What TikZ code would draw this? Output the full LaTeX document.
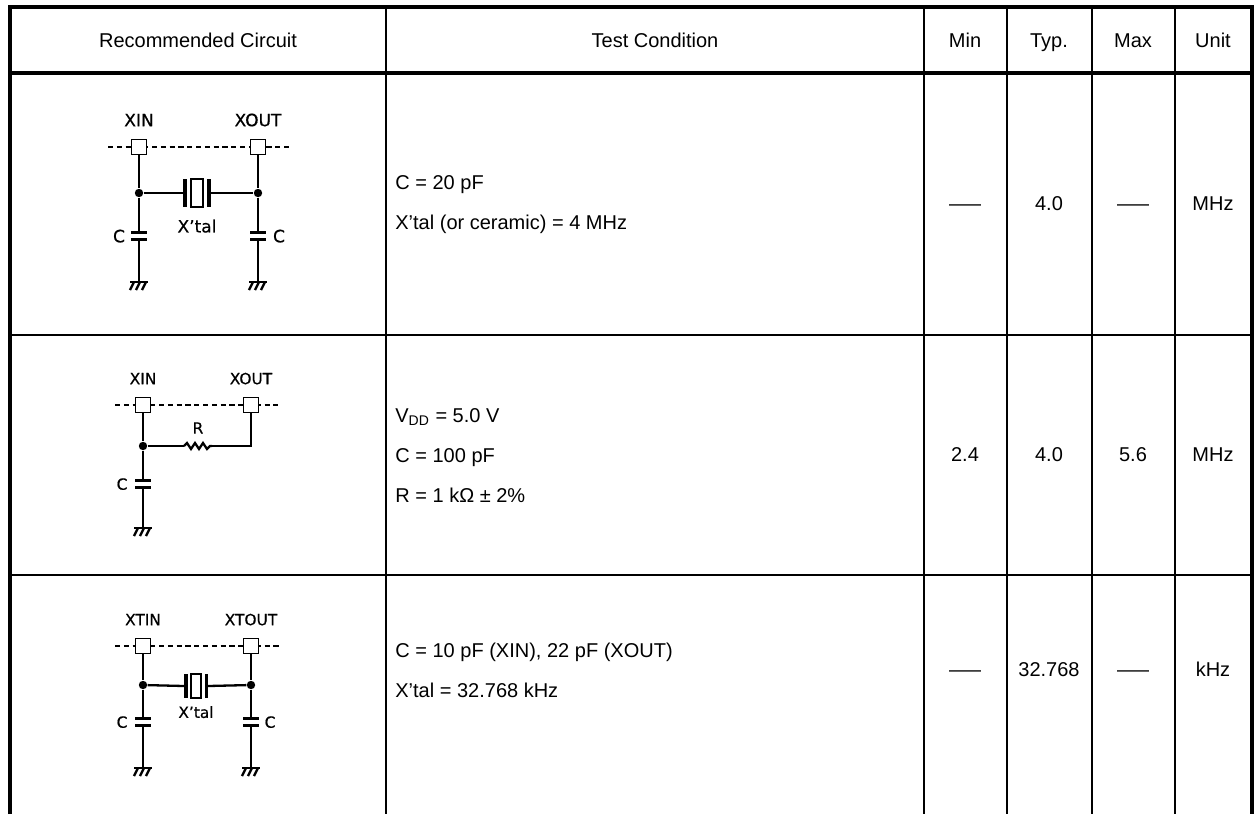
\documentclass[tikz,border=0pt]{standalone}
\usepackage{fontspec}
\setmainfont{Liberation Sans}
\newfontfamily\cktfont[FakeBold=0.6]{DejaVu Sans}
\usepackage{graphicx}
\usetikzlibrary{positioning}

\tikzset{
  pics/cap/.style={code={
    \draw[plate] (-8,-3.5) -- (8,-3.5);
    \draw[plate] (-8,3.5) -- (8,3.5);
    \coordinate (-top) at (0,-3.5);
    \coordinate (-bot) at (0,3.5);
  }},
  pics/gnd/.style={code={
    \draw[wire] (-9,0) -- (9,0);
    \foreach \gx in {-5,1,7}
      \draw[wire] (\gx,0) -- ++(-4,8);
    \coordinate (-top) at (0,0);
  }},
  pics/xtal/.style={code={
    \fill (-14,-14) rectangle (-10,14);
    \fill (10,-14) rectangle (14,14);
    \draw[line width=1.1pt] (-6,-14) rectangle (6,14);
    \coordinate (-w) at (-14,0);
    \coordinate (-e) at (14,0);
  }},
  pics/res/.style={code={
    \draw[wire] (-14,0) -- (-11,-3) -- (-7,3) -- (-3,-3) -- (1,3)
      -- (5,-3) -- (9,3) -- (12,0) -- (14,0);
    \coordinate (-w) at (-14,0);
    \coordinate (-e) at (14,0);
  }}
}

\begin{document}
\begin{tikzpicture}[x=0.5pt,y=-0.5pt,
  border/.style={line width=2pt},
  gridline/.style={line width=1.2pt},
  wire/.style={line width=1.15pt},
  plate/.style={line width=1.9pt},
  dashline/.style={line width=1pt, dash pattern=on 2.6pt off 1.8pt},
  padbox/.style={draw, fill=white, line width=0.9pt, minimum size=7.5pt, inner sep=0pt},
  jdot/.style={circle, fill, inner sep=0pt, minimum size=4.2pt},
  cktlbl/.style={font=\cktfont\fontsize{8.5}{9}\selectfont, inner sep=0pt, text depth=0pt},
  smlbl/.style={font=\cktfont\fontsize{7.7}{8}\selectfont, inner sep=0pt, text depth=0pt},
  hdr/.style={font=\fontsize{10}{12}\selectfont, text height=1.6ex, text depth=0.45ex},
  cond/.style={anchor=base west, font=\fontsize{10}{12}\selectfont, inner sep=0pt},
  val/.style={font=\fontsize{10}{12}\selectfont, text height=1.6ex, text depth=0.45ex}]
  \useasboundingbox (0,0) rectangle (1256,814);

  % table grid
  \foreach \cx in {386,924,1007,1092,1175}
    \draw[gridline] (\cx,7) -- (\cx,814);
  \draw[gridline] (10,335) -- (1252,335);
  \draw[gridline] (10,575) -- (1252,575);
  \draw[border] (10,814) -- (10,7) -- (1252,7) -- (1252,814);
  \draw[border] (10,73) -- (1252,73);

  % header
  \node[hdr] (hcirc) at (198,41) {Recommended Circuit};
  \node[hdr] (hcond) at (655,41) {Test Condition};
  \node[hdr] (hmin) at (965,41) {Min};
  \node[hdr] (htyp) at (1049,41) {Typ.};
  \node[hdr] (hmax) at (1133,41) {Max};
  \node[hdr] (hunit) at (1213,41) {Unit};

  % row 1: crystal
  \coordinate (dl1) at (108,147);
  \coordinate (dr1) at (290,147);
  \draw[dashline] (dl1) -- (dr1);
  \node[padbox] (xin1) at (139,147) {};
  \node[padbox] (xout1) at (258,147) {};
  \node[cktlbl, above=6pt of xin1] {XIN};
  \node[cktlbl, above=6pt of xout1] {XOUT};
  \node[jdot] (ja1) at (139,193) {};
  \node[jdot] (jb1) at (258,193) {};
  \pic (xt1) at (197,193) {xtal};
  \node[cktlbl] (xl1) at (197,226) {X’tal};
  \pic (ca1) at (139,236) {cap};
  \pic (cb1) at (258,236) {cap};
  \node[cktlbl] (cla1) at (119,236) {C};
  \node[cktlbl] (clb1) at (279,236) {C};
  \pic (ga1) at (139,282) {gnd};
  \pic (gb1) at (258,282) {gnd};
  \draw[wire] (xin1) -- (ja1) -- (ca1-top) (ca1-bot) -- (ga1-top);
  \draw[wire] (xout1) -- (jb1) -- (cb1-top) (cb1-bot) -- (gb1-top);
  \draw[wire] (ja1) -- (xt1-w) (xt1-e) -- (jb1);

  \node[cond] (t11) at (395,189) {C = 20 pF};
  \node[cond] (t12) at (395,229) {X’tal (or ceramic) = 4 MHz};
  \node[val] (min1) at (965,204) {\scalebox{1.6}[1]{—}};
  \node[val] (typ1) at (1049,204) {4.0};
  \node[val] (max1) at (1133,204) {\scalebox{1.6}[1]{—}};
  \node[val] (unit1) at (1213,204) {MHz};

  % row 2: RC
  \coordinate (dl2) at (115,405);
  \coordinate (dr2) at (278,405);
  \draw[dashline] (dl2) -- (dr2);
  \node[padbox] (xin2) at (143,405) {};
  \node[padbox] (xout2) at (251,405) {};
  \node[smlbl, above=6pt of xin2] {XIN};
  \node[smlbl, above=6pt of xout2] {XOUT};
  \node[jdot] (ja2) at (143,446) {};
  \coordinate (kb2) at (251,446);
  \pic (r2) at (198,446) {res};
  \node[smlbl] (rl2) at (198,428) {R};
  \pic (ca2) at (143,484) {cap};
  \node[smlbl] (cla2) at (122,484) {C};
  \pic (ga2) at (143,528) {gnd};
  \draw[wire] (xin2) -- (ja2) -- (ca2-top) (ca2-bot) -- (ga2-top);
  \draw[wire] (ja2) -- (r2-w) (r2-e) -- (kb2) -- (xout2);

  \node[cond] (t21) at (395,422) {V\textsubscript{DD} = 5.0 V};
  \node[cond] (t22) at (395,462) {C = 100 pF};
  \node[cond] (t23) at (395,502) {R = 1 kΩ ± 2\%};
  \node[val] (min2) at (965,455) {2.4};
  \node[val] (typ2) at (1049,455) {4.0};
  \node[val] (max2) at (1133,455) {5.6};
  \node[val] (unit2) at (1213,455) {MHz};

  % row 3: sub clock crystal
  \coordinate (dl3) at (115,646);
  \coordinate (dr3) at (280,646);
  \draw[dashline] (dl3) -- (dr3);
  \node[padbox] (xin3) at (143,646) {};
  \node[padbox] (xout3) at (251,646) {};
  \node[smlbl, above=6pt of xin3] {XTIN};
  \node[smlbl, above=6pt of xout3] {XTOUT};
  \node[jdot] (ja3) at (143,685) {};
  \node[jdot] (jb3) at (251,685) {};
  \pic[scale=0.85] (xt3) at (196,686) {xtal};
  \node[smlbl] (xl3) at (196,712) {X’tal};
  \pic (ca3) at (143,722) {cap};
  \pic (cb3) at (251,722) {cap};
  \node[smlbl] (cla3) at (122,722) {C};
  \node[smlbl] (clb3) at (270,722) {C};
  \pic (ga3) at (143,768) {gnd};
  \pic (gb3) at (251,768) {gnd};
  \draw[wire] (xin3) -- (ja3) -- (ca3-top) (ca3-bot) -- (ga3-top);
  \draw[wire] (xout3) -- (jb3) -- (cb3-top) (cb3-bot) -- (gb3-top);
  \draw[wire] (ja3) -- (xt3-w) (xt3-e) -- (jb3);

  \node[cond] (t31) at (395,657) {C = 10 pF (XIN), 22 pF (XOUT)};
  \node[cond] (t32) at (395,697) {X’tal = 32.768 kHz};
  \node[val] (min3) at (965,670) {\scalebox{1.6}[1]{—}};
  \node[val] (typ3) at (1049,670) {32.768};
  \node[val] (max3) at (1133,670) {\scalebox{1.6}[1]{—}};
  \node[val] (unit3) at (1213,670) {kHz};
\end{tikzpicture}
\end{document}
